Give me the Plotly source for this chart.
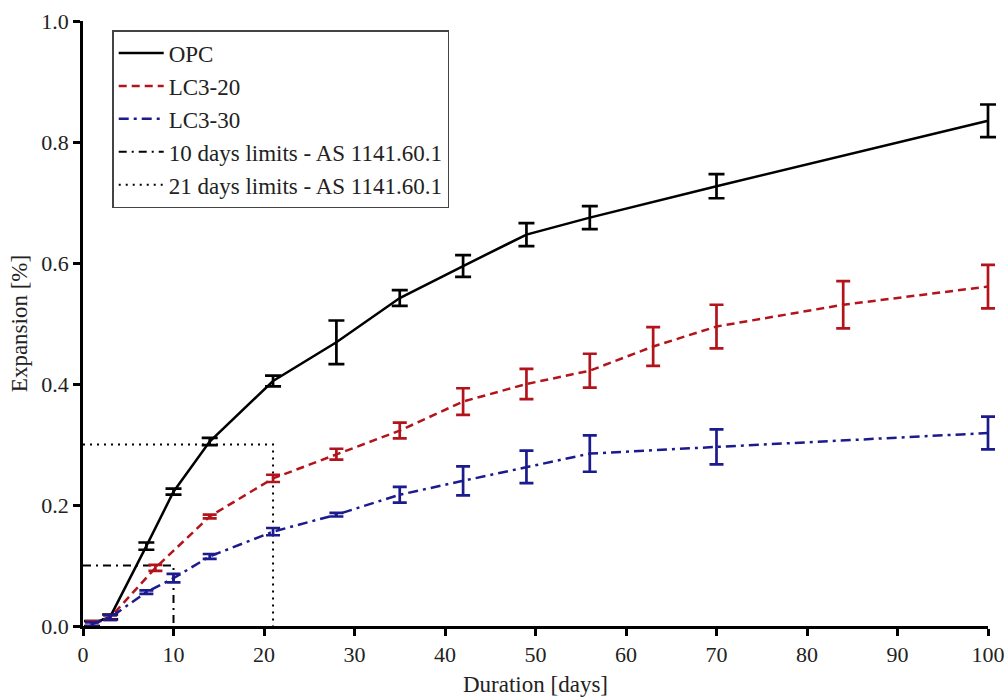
import plotly.graph_objects as go

# ---- data ----
opc_days = [1, 3, 7, 10, 14, 21, 28, 35, 42, 49, 56, 70, 100]
opc_mean = [0.004, 0.015, 0.132, 0.222, 0.305, 0.405, 0.469, 0.542, 0.595, 0.647, 0.675, 0.727, 0.835]
opc_err = [0.004, 0.004, 0.006, 0.005, 0.006, 0.009, 0.036, 0.013, 0.018, 0.019, 0.019, 0.020, 0.027]

lc20_days = [1, 3, 8, 14, 21, 28, 35, 42, 49, 56, 63, 70, 84, 100]
lc20_mean = [0.004, 0.014, 0.096, 0.181, 0.244, 0.284, 0.323, 0.371, 0.400, 0.422, 0.462, 0.495, 0.531, 0.561]
lc20_err = [0.004, 0.004, 0.005, 0.003, 0.006, 0.009, 0.013, 0.022, 0.025, 0.028, 0.032, 0.036, 0.039, 0.036]

lc30_days = [1, 3, 7, 10, 14, 21, 28, 35, 42, 49, 56, 70, 100]
lc30_mean = [0.003, 0.014, 0.056, 0.079, 0.115, 0.156, 0.184, 0.217, 0.240, 0.263, 0.285, 0.296, 0.319]
lc30_err = [0.003, 0.004, 0.003, 0.007, 0.004, 0.006, 0.003, 0.013, 0.024, 0.027, 0.030, 0.029, 0.027]

limit10_x = [0, 10, 10]
limit10_y = [0.1, 0.1, 0.0]
limit21_x = [0, 21, 21]
limit21_y = [0.3, 0.3, 0.0]

x_ticks = [0, 10, 20, 30, 40, 50, 60, 70, 80, 90, 100]
y_ticks = [0.0, 0.2, 0.4, 0.6, 0.8, 1.0]
x_max = 100

BLACK = "#000000"
RED = "#b3141c"
BLUE = "#1b1b8e"
FONT = "Liberation Serif"

# plot area spans pixel 83..996; visible axis ends at 988 (x=100)
W, ML, MR = 1008, 83, 12
area = W - ML - MR
axis_px = 988 - ML
dom_frac = axis_px / area

fig = go.Figure()

fig.add_trace(go.Scatter(
    x=limit10_x, y=limit10_y, mode="lines", name="10 days limits - AS 1141.60.1",
    line=dict(color=BLACK, width=2, dash="8px,5px,2px,5px"), legendrank=4,
    xaxis="x", yaxis="y",
))
fig.add_trace(go.Scatter(
    x=limit21_x, y=limit21_y, mode="lines", name="21 days limits - AS 1141.60.1",
    line=dict(color=BLACK, width=2, dash="2px,5px"), legendrank=5,
    xaxis="x", yaxis="y",
))

# data series on a hidden, slightly wider axis so the end caps at day 100 are not clipped
for days, mean, err, name, color, dash, cap, rank in [
    (opc_days, opc_mean, opc_err, "OPC", BLACK, "solid", 8, 1),
    (lc20_days, lc20_mean, lc20_err, "LC3-20", RED, "8px,5px", 7, 2),
    (lc30_days, lc30_mean, lc30_err, "LC3-30", BLUE, "10px,5px,3px,5px", 7, 3),
]:
    fig.add_trace(go.Scatter(
        x=days, y=mean, mode="lines", name=name, legendrank=rank,
        line=dict(color=color, width=2.5, dash=dash),
        error_y=dict(type="data", array=err, visible=True, color=color,
                     thickness=2.7, width=cap),
        cliponaxis=False, xaxis="x2", yaxis="y",
    ))

fig.update_layout(
    width=W, height=697,
    margin=dict(l=ML, r=MR, t=21, b=71),
    paper_bgcolor="white", plot_bgcolor="rgba(0,0,0,0)",
    font=dict(family=FONT, size=22, color="#222222"),
    showlegend=True,
    legend=dict(
        x=0.032, y=0.985, xanchor="left", yanchor="top",
        bgcolor="white", bordercolor="#444444", borderwidth=1.5,
        font=dict(family=FONT, size=23, color="#222222"),
        itemwidth=45, tracegroupgap=0,
    ),
    xaxis=dict(
        domain=[0, dom_frac], anchor="y",
        range=[0, x_max], tickvals=x_ticks, showgrid=False, zeroline=False,
        showline=True, linecolor=BLACK, linewidth=2.5, automargin=False,
        ticks="outside", ticklen=7, tickwidth=2.5, tickcolor=BLACK,
        tickfont=dict(family=FONT, size=22),
        title=dict(text="Duration [days]", font=dict(family=FONT, size=23), standoff=12),
    ),
    xaxis2=dict(
        domain=[0, 1], anchor="y", visible=False,
        range=[0, x_max / dom_frac], showgrid=False, zeroline=False,
    ),
    yaxis=dict(
        anchor="x", domain=[0, 1],
        range=[0, 1.0], tickvals=y_ticks, tickformat=".1f", showgrid=False, zeroline=False,
        showline=True, linecolor=BLACK, linewidth=2.5, automargin=False,
        ticks="outside", ticklen=7, tickwidth=2.5, tickcolor=BLACK,
        tickfont=dict(family=FONT, size=22),
        title=dict(text="Expansion [%]", font=dict(family=FONT, size=23), standoff=8),
    ),
)

fig.write_html("out.html")
